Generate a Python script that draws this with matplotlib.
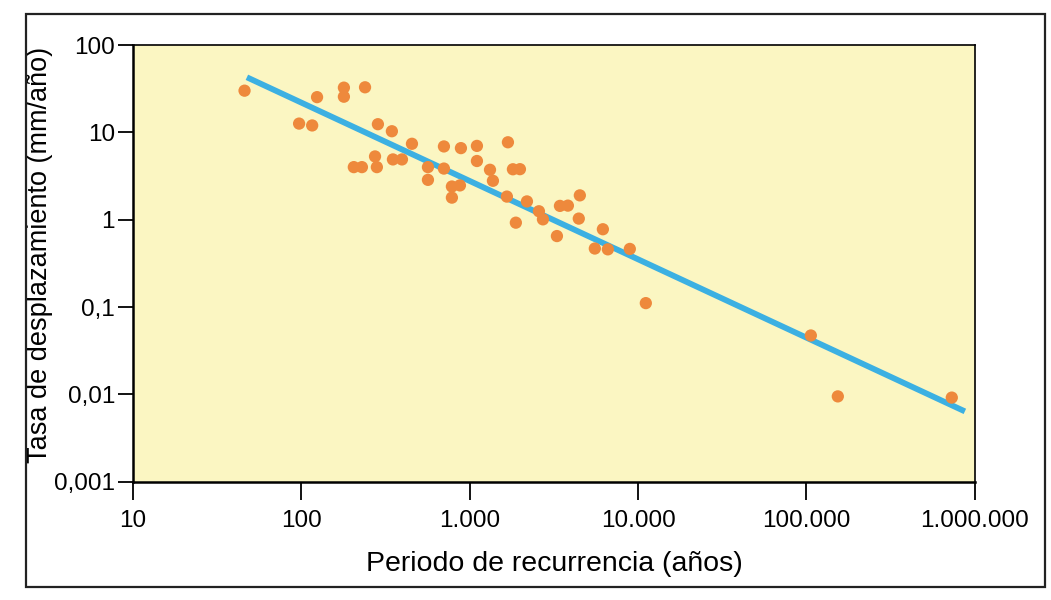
import numpy as np
import matplotlib.pyplot as plt
from matplotlib.patches import Rectangle
from matplotlib.ticker import FixedLocator, NullLocator

# periodo de recurrencia (años) y tasa de desplazamiento (mm/año) de cada falla
periodo = [46, 97, 116, 124, 179, 179, 239, 205, 229, 274,
           281, 285, 345, 350, 396, 454, 565, 565, 703, 703,
           784, 875, 784, 887, 1104, 1104, 1320, 1374, 1687, 1806,
           1988, 1663, 1880, 2188, 2578, 2723, 3297, 3436, 3830, 4510,
           4446, 5536, 6180, 6617, 8935, 11120, 106200, 153600, 730000]
tasa = [30, 12.6, 12.0, 25.3, 32.5, 25.6, 32.8, 4.0, 4.0, 5.3,
        4.0, 12.4, 10.3, 4.9, 4.9, 7.4, 4.0, 2.86, 6.9, 3.85,
        2.4, 2.47, 1.79, 6.6, 7.0, 4.7, 3.73, 2.79, 7.7, 3.78,
        3.79, 1.84, 0.925, 1.62, 1.25, 1.01, 0.65, 1.44, 1.45, 1.9,
        1.03, 0.468, 0.778, 0.458, 0.463, 0.111, 0.0473, 0.0095, 0.0092]

# recta de ajuste (extremos)
ajuste_x = [47.5, 873000]
ajuste_y = [42.7, 0.0064]

xticks = [10, 100, 1000, 10000, 100000, 1000000]
xlabels = ['10', '100', '1.000', '10.000', '100.000', '1.000.000']
yticks = [0.001, 0.01, 0.1, 1, 10, 100]
ylabels = ['0,001', '0,01', '0,1', '1', '10', '100']

plt.rcParams['font.family'] = ['Liberation Sans', 'DejaVu Sans']

fig = plt.figure(figsize=(10.51, 6.0), dpi=100)
ax = fig.add_axes([0.1265, 0.197, 0.801, 0.728])
ax.set_facecolor('#fbf6c2')

ax.plot(ajuste_x, ajuste_y, color='#3cb0e2', lw=4.2, solid_capstyle='butt', zorder=2)
ax.scatter(periodo, tasa, s=78, color='#ee893c', edgecolors='none', zorder=3)

ax.set_xscale('log')
ax.set_yscale('log')
ax.set_xlim(10, 1e6)
ax.set_ylim(0.001, 100)

ax.xaxis.set_major_locator(FixedLocator(xticks))
ax.xaxis.set_minor_locator(NullLocator())
ax.yaxis.set_major_locator(FixedLocator(yticks))
ax.yaxis.set_minor_locator(NullLocator())
ax.set_xticklabels(xlabels)
ax.set_yticklabels(ylabels)
ax.tick_params(axis='x', direction='out', length=13, width=1.3, labelsize=17.5, pad=7)
ax.tick_params(axis='y', direction='out', length=11, width=1.3, labelsize=17.5, pad=2)

for side in ['left', 'bottom']:
    ax.spines[side].set_linewidth(1.8)
for side in ['top', 'right']:
    ax.spines[side].set_linewidth(1.2)

ax.set_xlabel('Periodo de recurrencia (años)', fontsize=20.5, labelpad=14)
ax.set_ylabel('Tasa de desplazamiento (mm/año)', fontsize=19.5)
ax.yaxis.set_label_coords(-0.095, 0.52)

# marco exterior de la figura
fig.patches.append(Rectangle((0.025, 0.022), 0.969, 0.955, transform=fig.transFigure,
                             fill=False, edgecolor='#222222', lw=1.6))

fig.savefig('out.png', dpi=100, facecolor='white')
